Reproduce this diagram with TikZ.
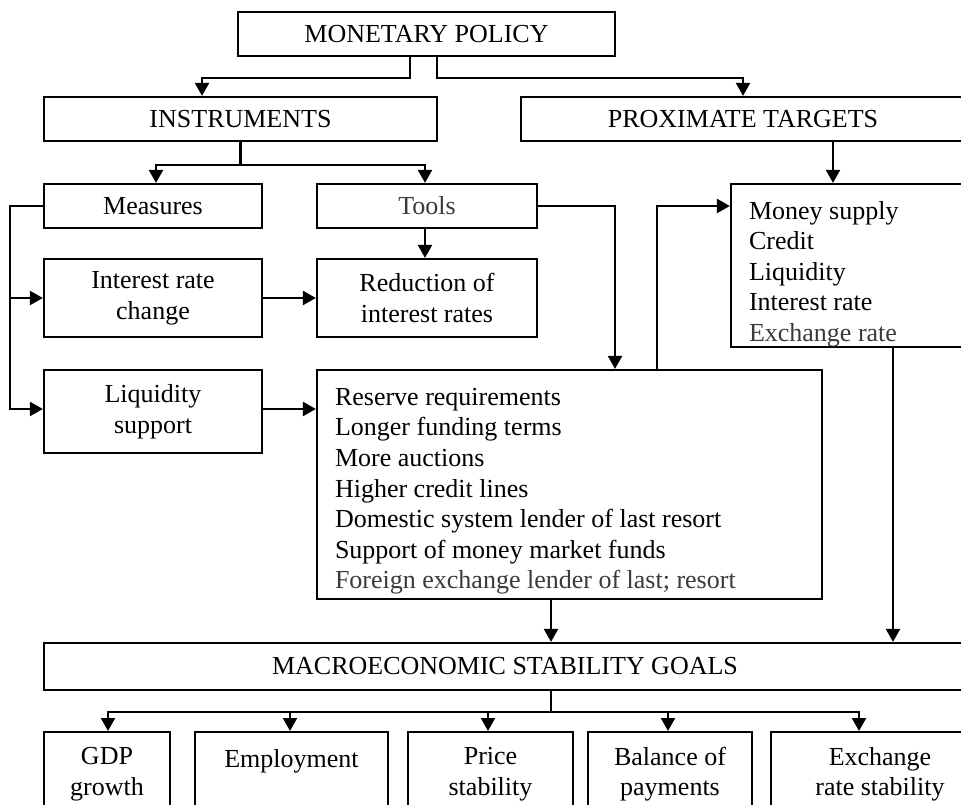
\documentclass[tikz,border=0pt]{standalone}
\usepackage{fontspec}
\setmainfont{Liberation Serif}
\usetikzlibrary{arrows.meta, positioning, calc}
\definecolor{softtext}{HTML}{3A3A3A}

\begin{document}
\begin{tikzpicture}[x=1pt, y=-1pt,
            font=\fontsize{26}{30.6}\selectfont,
            box/.style={draw, line width=2.2pt, inner sep=0pt, align=center},
            list box/.style={box, align=left, anchor=north west, inner xsep=18pt},
            goal/.style={box, anchor=north, minimum height=84pt},
            flow/.style={-{Triangle[length=13pt, width=14pt]}, line width=2.2pt}]

            % Page frame
            \useasboundingbox (0,0) rectangle (961,805);
            \clip (0,0) rectangle (961,805);

            % Top levels
            \node[box, minimum width=377pt, minimum height=44pt] (policy) at (426.5,34) {MONETARY POLICY};
            \node[box, minimum width=393pt, minimum height=44pt] (instr) at (240.5,119) {INSTRUMENTS};
            \node[box, minimum width=444pt, minimum height=44pt] (prox) at (743,119) {PROXIMATE TARGETS};

            % Instruments side
            \node[box, minimum width=218pt, minimum height=44pt] (measures) at (153,206) {Measures};
            \node[box, minimum width=220pt, minimum height=44pt, text=softtext] (tools) at (427,206) {Tools};
            \node[box, minimum width=218pt, minimum height=78pt] (irc) at (153,298) {Interest rate\\change};
            \node[box, minimum width=220pt, minimum height=78pt] (reduce) at (427,298) {Reduction of\\interest rates};
            \node[box, minimum width=218pt, minimum height=83pt] (liq) at (153,411.5) {Liquidity\\support};

            % Liquidity tools list
            \node[box, minimum width=505pt, minimum height=229pt] (tlist) at (569.5,484.5) {};
            \node[list box, draw=none, inner ysep=18pt] (tlisttext) at (tlist.north west) {Reserve requirements\\
                Longer funding terms\\
                More auctions\\
                Higher credit lines\\
                Domestic system lender of last resort\\
                Support of money market funds\\
                \textcolor{softtext}{Foreign exchange lender of last; resort}};

            % Proximate targets list
            \node[box, minimum width=244pt, minimum height=163pt] (targets) at (853,265.5) {};
            \node[list box, draw=none, inner ysep=17pt] (targetstext) at (targets.north west) {Money supply\\
                Credit\\
                Liquidity\\
                Interest rate\\
                \textcolor{softtext}{Exchange rate}};

            % Goals
            \node[box, minimum width=922pt, minimum height=47pt] (macro) at (505,666.5) {MACROECONOMIC STABILITY GOALS};
            \node[goal, minimum width=126pt] (gdp) at (107,731) {GDP\\growth};
            \node[goal, minimum width=193pt] (employ) at (291.5,731) {Employment\\~};
            \node[goal, minimum width=165pt] (price) at (490.5,731) {Price\\stability};
            \node[goal, minimum width=164pt] (balance) at (670,731) {Balance of\\payments};
            \node[goal, minimum width=218pt] (exrate) at (880,731) {Exchange\\rate stability};

            % Connectors
            \draw[flow] ([xshift=-16.5pt]policy.south) -- ++(0,21) -| ([xshift=-38.5pt]instr.north);
            \draw[flow] ([xshift=10.5pt]policy.south) -- ++(0,21) -| (prox.north);
            \draw[flow] (instr.south) -- ++(0,23) coordinate (isplit) -| ([xshift=3pt]measures.north);
            \draw[flow] (isplit) -| ([xshift=-2pt]tools.north);
            \draw[flow] ([xshift=-20pt]targets.north |- prox.south) -- ([xshift=-20pt]targets.north);
            \draw[flow] (measures.west) -- ++(-33,0) coordinate (mleft) |- (irc.west);
            \draw[flow] (mleft) |- ([yshift=2.5pt]liq.west);
            \draw[flow] (irc.east) -- (reduce.west);
            \draw[flow] ([xshift=-2pt]tools.south) -- ([xshift=-2pt]reduce.north);
            \draw[flow] (tools.east) -| ([xshift=45.5pt]tlist.north);
            \draw[flow] ([xshift=87.5pt]tlist.north) |- (targets.west |- tools.east);
            \draw[flow] ([yshift=2.5pt]liq.east) -- ([yshift=2.5pt]liq.east -| tlist.west);
            \draw[flow] ([xshift=-18.5pt]tlist.south) -- ([xshift=-18.5pt]tlist.south |- macro.north);
            \draw[flow] ([xshift=40pt]targets.south) -- ([xshift=40pt]targets.south |- macro.north);
            \draw[flow] ([xshift=46pt]macro.south) -- ++(0,21) coordinate (gsplit) -| ([xshift=1pt]gdp.north);
            \draw[flow] (gsplit) -| ([xshift=-1.5pt]employ.north);
            \draw[flow] (gsplit) -| ([xshift=-2.5pt]price.north);
            \draw[flow] (gsplit) -| ([xshift=-2pt]balance.north);
            \draw[flow] (gsplit) -| ([xshift=-21pt]exrate.north);
        \end{tikzpicture}
\end{document}
